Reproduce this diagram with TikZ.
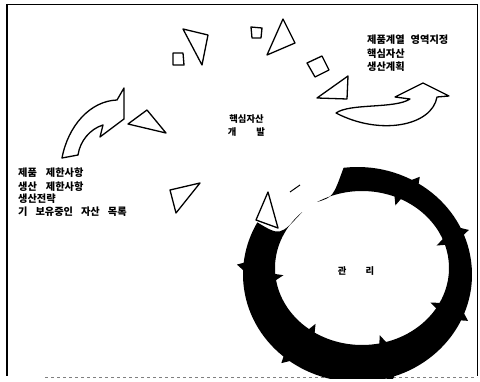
\documentclass[tikz,border=0pt]{standalone}
\usepackage{fontspec}
\newfontfamily\kr{Noto Sans CJK KR}
\begin{document}
\begin{tikzpicture}[x=1pt,y=1pt,
  outl/.style={draw=black, line width=1.3pt, line join=round, fill=white},
  ktext/.style={font=\kr\bfseries\fontsize{10.2}{12}\selectfont, inner sep=0pt, anchor=west},
  ctext/.style={font=\kr\bfseries\fontsize{9.3}{11}\selectfont, inner sep=0pt}]
\useasboundingbox (0,0) rectangle (480,381);
% frame
\draw[line width=1.6pt] (7,377) -- (7,5);
\draw[line width=0.9pt] (7,377) -- (477,377) -- (477,5);
\draw[line width=0.6pt, dashed, gray] (45,3.5) -- (477,3.5);
% ring
\begin{scope}
\clip (0,3) rectangle (480,381);
\fill[black] ({357.5+114.5*cos(97)},{106.5+107.5*sin(97)})
  arc[start angle=97, end angle=-209, x radius=114.5, y radius=107.5]
  .. controls (280,145) .. ({362+87*cos(133.5)},{113+77*sin(133.5)})
  arc[start angle=-226.5, end angle=121, x radius=87, y radius=77]
  .. controls (333,184) .. ({357.5+114.5*cos(97)},{106.5+107.5*sin(97)}) -- cycle;
\foreach \t in {60,24,-23,-73,-128,176} {
  \fill ({357.5+112*cos(\t+2.8)},{106.5+105*sin(\t+2.8)}) --
        ({357.5+121*cos(\t-1)},{106.5+114*sin(\t-1)}) --
        ({357.5+112*cos(\t-2.8)},{106.5+105*sin(\t-2.8)}) -- cycle;
}
\foreach \t in {66,20,-29,-76,-125,187} {
  \fill ({362+90*cos(\t+3)},{113+80*sin(\t+3)}) --
        ({362+79*cos(\t-1)},{113+69*sin(\t-1)}) --
        ({362+90*cos(\t-3)},{113+80*sin(\t-3)}) -- cycle;
}
\end{scope}
% white arrow head of ring
\draw[outl] (268,189) -- (256,161) -- (278,153) -- cycle;
\draw[line width=1pt] (290,189) -- (300,196);
% outline triangles and squares
\draw[outl] (183,352) -- (208,346) -- (202,316) -- cycle;
\draw[outl] (173,328) -- (183,328) -- (184,316) -- (173,316) -- cycle;
\draw[outl] (251,354) -- (262,353) -- (261,343) -- (252,343) -- cycle;
\draw[outl] (283,362) -- (295,338) -- (267,326) -- cycle;
\draw[outl] (322,325) -- (329,311) -- (315,304) -- (307,318) -- cycle;
\draw[outl] (348,305) -- (347,282) -- (317,283) -- cycle;
\draw[outl] (147,271) -- (128,257) -- (166,248) -- cycle;
\draw[outl] (170,191) -- (200,198) -- (176,168) -- cycle;
% curved arrows
\draw[outl] (62,223) .. controls (68,255) and (90,280) .. (117,281) -- (124,293) -- (124,262) -- (100,244) -- (103,256) .. controls (90,252) and (80,240) .. (78,226) -- cycle;
\draw[outl] (336,268) .. controls (350,278) and (395,272) .. (410,282) -- (395,284) -- (423,298) -- (449,285) -- (437,284) .. controls (432,255) and (380,245) .. (336,268) -- cycle;
% texts
\node[ktext] (r1) at (367,341) {제품계열\hspace{6pt}영역지정};
\node[ktext] (r2) at (367,327) {핵심자산};
\node[ktext] (r3) at (367,314) {생산계획};
\node[ktext] (l1) at (18,208) {제품\hspace{9pt}제한사항};
\node[ktext] (l2) at (18,194) {생산\hspace{9pt}제한사항};
\node[ktext] (l3) at (18,182) {생산전략};
\node[ktext] (l4) at (18,169) {기\hspace{8pt}보유중인\hspace{8pt}자산\hspace{8pt}목록};
\node[ctext] (c1) at (246.5,262) {핵심자산};
\node[ctext] (c2) at (246.5,249) {개\hspace{20pt}발};
\node[ctext] (m) at (356,110) {관\hspace{19pt}리};
\end{tikzpicture}
\end{document}
